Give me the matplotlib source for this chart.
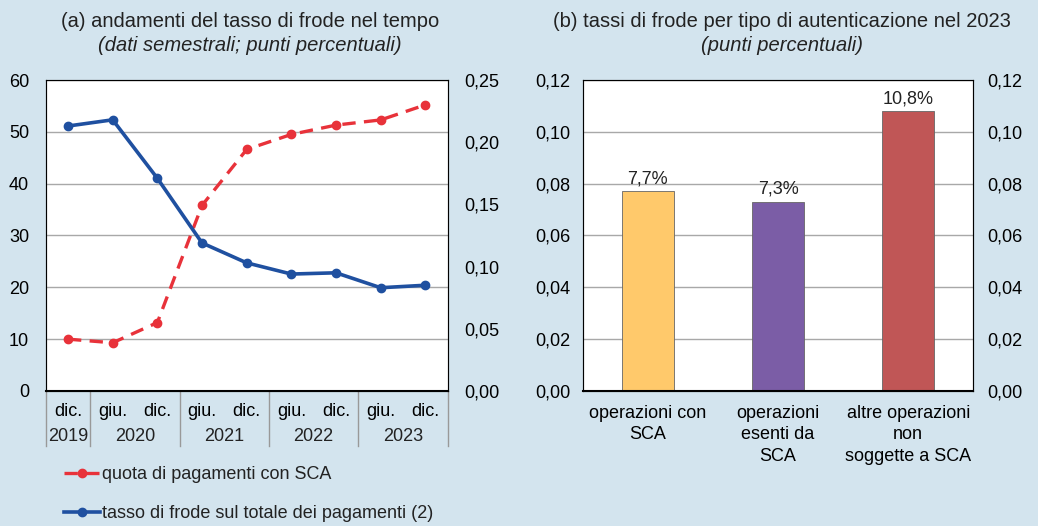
import matplotlib
matplotlib.use('Agg')
import matplotlib.pyplot as plt
from matplotlib.ticker import FuncFormatter, MultipleLocator
from matplotlib.lines import Line2D

# dati pannello (a)
periodi = ['dic.', 'giu.', 'dic.', 'giu.', 'dic.', 'giu.', 'dic.', 'giu.', 'dic.']
anni = ['2019', '2020', '2021', '2022', '2023']
quota_sca = [10.0, 9.3, 13.2, 35.8, 46.6, 49.5, 51.3, 52.3, 55.2]
tasso_frode = [0.213, 0.218, 0.171, 0.119, 0.103, 0.094, 0.095, 0.083, 0.085]

# dati pannello (b)
tipi = ['operazioni con\nSCA', 'operazioni\nesenti da\nSCA', 'altre operazioni\nnon\nsoggette a SCA']
tassi_tipo = [0.077, 0.073, 0.108]
colori_tipo = ['#FFC96B', '#7B5DA6', '#C05656']

plt.rcParams['font.family'] = ['Liberation Sans', 'DejaVu Sans']
plt.rcParams['font.size'] = 13
plt.rcParams['text.color'] = '#222222'

bg = '#D3E4EE'
rosso = '#E8323A'
blu = '#1F50A0'
griglia = '#A8A8A8'
fs = 13
fs_tit = 14.5

def virgola(dec):
    return FuncFormatter(lambda v, p: f'{v:.{dec}f}'.replace('.', ','))

fig = plt.figure(figsize=(10.38, 5.26), dpi=100, facecolor=bg)

# ---- pannello (a)
ax = fig.add_axes([0.044, 0.2567, 0.3873, 0.5912])
ax.set_facecolor('white')
x = list(range(len(periodi)))
ax.plot(x, quota_sca, color=rosso, lw=2.4, dashes=(4, 2.5), marker='o', ms=6,
        label='quota di pagamenti con SCA')
ax.set_ylim(0, 60)
ax.set_xlim(-0.5, len(periodi) - 0.5)
ax.yaxis.set_major_locator(MultipleLocator(10))
ax.grid(axis='y', color=griglia, lw=1)
ax.set_axisbelow(True)
ax.tick_params(axis='y', length=0, pad=12, labelsize=fs)
ax.set_xticks(x)
ax.set_xticklabels(periodi)
ax.tick_params(axis='x', length=0, pad=9, labelsize=fs)
for s in ['left', 'top', 'right']:
    ax.spines[s].set_color('#555555')
ax.spines['bottom'].set_linewidth(1.5)

ax2 = ax.twinx()
ax2.plot(x, tasso_frode, color=blu, lw=2.6, marker='o', ms=6,
         label='tasso di frode sul totale dei pagamenti (2)')
ax2.set_ylim(0, 0.25)
ax2.yaxis.set_major_locator(MultipleLocator(0.05))
ax2.yaxis.set_major_formatter(virgola(2))
ax2.tick_params(axis='y', length=0, pad=12, labelsize=fs)

# etichette anni e separatori
gruppi = [(0, 0), (1, 2), (3, 4), (5, 6), (7, 8)]
for anno, (a, b) in zip(anni, gruppi):
    ax.text((a + b) / 2, -8.7, anno, ha='center', va='center', fontsize=fs)
for sep in [-0.5, 0.5, 2.5, 4.5, 6.5, 8.5]:
    ax.add_line(Line2D([sep, sep], [0, -10.6], color='#999999', lw=1, clip_on=False))

fig.text(0.241, 0.960, '(a) andamenti del tasso di frode nel tempo', ha='center', va='center', fontsize=fs_tit)
fig.text(0.241, 0.913, '(dati semestrali; punti percentuali)', ha='center', va='center',
         fontsize=fs_tit, style='italic')

h1, l1 = ax.get_legend_handles_labels()
h2, l2 = ax2.get_legend_handles_labels()
fig.legend(h1 + h2, l1 + l2, loc='upper left', bbox_to_anchor=(0.055, 0.127),
           frameon=False, handlelength=2.0, handletextpad=0.1, labelspacing=1.22,
           fontsize=fs, borderaxespad=0)

# ---- pannello (b)
bx = fig.add_axes([0.5614, 0.2572, 0.3763, 0.5907])
bx.set_facecolor('white')
pos = list(range(len(tipi)))
barre = bx.bar(pos, tassi_tipo, width=0.4, color=colori_tipo, edgecolor='#666666', lw=0.6)
for r, v in zip(barre, tassi_tipo):
    bx.text(r.get_x() + r.get_width() / 2, v + 0.0015, f'{v * 100:.1f}%'.replace('.', ','),
            ha='center', va='bottom', fontsize=fs)
bx.set_ylim(0, 0.12)
bx.set_xlim(-0.5, len(tipi) - 0.5)
bx.yaxis.set_major_locator(MultipleLocator(0.02))
bx.yaxis.set_major_formatter(virgola(2))
bx.grid(axis='y', color=griglia, lw=1)
bx.set_axisbelow(True)
bx.set_xticks(pos)
bx.set_xticklabels(tipi, linespacing=1.35)
bx.tick_params(axis='x', length=0, pad=10, labelsize=fs)
bx.tick_params(axis='y', length=0, pad=9, labelsize=fs)
for s in ['left', 'top', 'right']:
    bx.spines[s].set_color('#555555')
bx.spines['bottom'].set_linewidth(1.5)

bx2 = bx.twinx()
bx2.set_ylim(0, 0.12)
bx2.yaxis.set_major_locator(MultipleLocator(0.02))
bx2.yaxis.set_major_formatter(virgola(2))
bx2.tick_params(axis='y', length=0, pad=10, labelsize=fs)

fig.text(0.7535, 0.960, '(b) tassi di frode per tipo di autenticazione nel 2023', ha='center', va='center', fontsize=fs_tit)
fig.text(0.7535, 0.913, '(punti percentuali)', ha='center', va='center', fontsize=fs_tit, style='italic')

fig.savefig('out.png', dpi=100, facecolor=bg)
